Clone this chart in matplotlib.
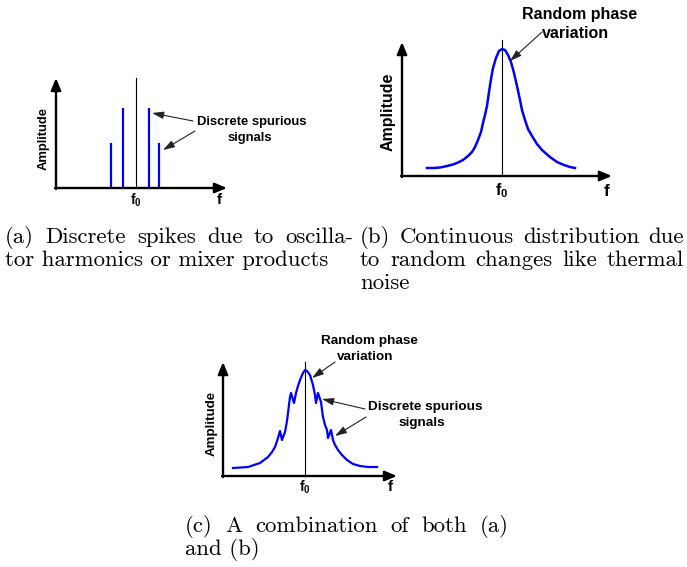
import matplotlib
matplotlib.use("Agg")
import matplotlib.pyplot as plt

plt.rcParams['mathtext.fontset'] = 'custom'
plt.rcParams['mathtext.rm'] = 'Liberation Sans'
plt.rcParams['mathtext.bf'] = 'Liberation Sans:bold'

W, H = 687, 567
BLUE = '#0000ff'
SANS = 'Liberation Sans'

# ---------------- data (pixel-sized units, offsets from panel origin) -------------
# Panel (a): discrete spurs around carrier
a_spike_offsets = [-25, -13, 13, 23]
a_spike_heights = [45, 80, 80, 45]
a_carrier_height = 110

# Panel (b): continuous phase-noise skirt (offset from carrier, amplitude)
b_offsets = [-75, -68, -62, -55, -49, -44, -39, -34, -30, -27, -24, -21, -19, -17, -15,
             -13, -11, -9, -6, -3, 0, 3, 6, 9, 12, 15, 18, 20, 23, 26, 30, 35, 40, 48,
             55, 62, 68, 73]
b_amps = [8, 8, 8.5, 10, 11.5, 13.5, 16, 20, 24, 29, 36, 44, 53, 61, 70,
          84, 97, 108, 118, 125, 127, 126, 121, 114, 103, 90, 76, 66, 56, 47, 40, 32, 26, 19,
          14, 11, 9, 8]
b_carrier_height = 136

# Panel (c): skirt with discrete spurs
c_offsets = [-72, -64, -57, -51, -45, -41, -37, -33, -30, -27, -25, -23, -20, -18, -17,
             -15, -14, -11, -9, -7, -5, -2, 0, 2, 5, 8, 10, 11, 13, 16, 18, 20, 22, 23,
             26, 28, 30, 33, 37, 42, 48, 55, 63, 72]
c_amps = [8, 8.5, 9, 11, 13, 16, 19, 24, 29, 38, 45, 36, 44, 55, 63,
          79, 83, 73, 83, 90, 96, 103, 106, 105, 101, 91, 81, 73, 83, 74, 59, 51, 46, 38,
          46, 36, 31, 26, 21, 16, 12, 10, 9, 9]
c_carrier_height = 114

# ---------------- layout --------------------------------------------------------
fig = plt.figure(figsize=(W / 100, H / 100), dpi=100)
fig.patch.set_facecolor('white')

base = fig.add_axes([0, 0, 1, 1])
base.set_xlim(0, W)
base.set_ylim(H, 0)
base.axis('off')


def panel(ox, oy):
    ax = fig.add_axes([0, 0, 1, 1])
    ax.set_xlim(-ox, W - ox)
    ax.set_ylim(oy - H, oy)
    ax.axis('off')
    ax.patch.set_alpha(0)
    return ax


def axis_arrows(ax, xend, ytop):
    kw = dict(arrowstyle='-|>,head_length=0.6,head_width=0.25', lw=1.7,
              color='black', mutation_scale=12, shrinkA=0, shrinkB=0)
    ax.annotate('', xy=(xend, 0), xytext=(-1, 0), arrowprops=kw)
    ax.annotate('', xy=(0, ytop), xytext=(0, -1), arrowprops=kw)


def pointer(ax, start, end):
    ax.annotate('', xy=end, xytext=start,
                arrowprops=dict(arrowstyle='-|>,head_length=0.7,head_width=0.22',
                                lw=0.8, color='#222222', mutation_scale=10,
                                shrinkA=0, shrinkB=0))


def ftexts(ax, cx, fx, y, size):
    ax.text(cx, y, r'$\mathbf{f}_\mathbf{0}$', ha='center', va='center', fontsize=size)
    ax.text(fx, y, 'f', ha='center', va='center', fontsize=size + 1,
            family=SANS, weight='bold')


# ---- Panel (a)
oxa, oya = 56, 188
axa = panel(oxa, oya)
ca = 80
axa.plot([ca, ca], [0, a_carrier_height], color='black', lw=0.8)
for off, h in zip(a_spike_offsets, a_spike_heights):
    axa.plot([ca + off, ca + off], [0, h], color=BLUE, lw=1.6, solid_capstyle='butt')
axis_arrows(axa, 171, 110)
axa.text(-12, 50, 'Amplitude', rotation=90, ha='center', va='center',
         fontsize=9.4, family=SANS, weight='bold')
ftexts(axa, ca, 163, -12, 10)
axa.text(196, 66, 'Discrete spurious', ha='center', va='center',
         fontsize=9.4, family=SANS, weight='bold')
axa.text(194, 50, 'signals', ha='center', va='center',
         fontsize=9.4, family=SANS, weight='bold')
pointer(axa, (137, 67), (ca + 16, 75))
pointer(axa, (139, 57), (ca + 27, 38))

# ---- Panel (b)
oxb, oyb = 402, 176
axb = panel(oxb, oyb)
cb = 100
axb.plot([cb, cb], [0, b_carrier_height], color='black', lw=0.8)
axb.plot([cb + o for o in b_offsets], b_amps, color=BLUE, lw=1.8)
axis_arrows(axb, 210, 134)
axb.text(-14, 64, 'Amplitude', rotation=90, ha='center', va='center',
         fontsize=11.5, family=SANS, weight='bold')
ftexts(axb, cb, 205, -15, 11.5)
axb.text(178, 161, 'Random phase', ha='center', va='center',
         fontsize=11.5, family=SANS, weight='bold')
axb.text(174, 142, 'variation', ha='center', va='center',
         fontsize=11.5, family=SANS, weight='bold')
pointer(axb, (140, 144), (cb + 8, 115))

# ---- Panel (c)
oxc, oyc = 223, 476
axc = panel(oxc, oyc)
cc = 82
axc.plot([cc, cc], [0, c_carrier_height], color='black', lw=0.8)
axc.plot([cc + o for o in c_offsets], c_amps, color=BLUE, lw=1.6)
axis_arrows(axc, 174, 114)
axc.text(-11, 53, 'Amplitude', rotation=90, ha='center', va='center',
         fontsize=9.6, family=SANS, weight='bold')
ftexts(axc, cc, 167, -11, 10)
axc.text(146, 135, 'Random phase', ha='center', va='center',
         fontsize=9.7, family=SANS, weight='bold')
axc.text(142, 119, 'variation', ha='center', va='center',
         fontsize=9.7, family=SANS, weight='bold')
pointer(axc, (112, 114), (cc + 7, 98))
axc.text(202, 69, 'Discrete spurious', ha='center', va='center',
         fontsize=9.7, family=SANS, weight='bold')
axc.text(199, 53, 'signals', ha='center', va='center',
         fontsize=9.7, family=SANS, weight='bold')
pointer(axc, (142, 67), (cc + 17, 77))
pointer(axc, (143, 59), (cc + 30, 40))

# ---------------- captions (justified, Computer Modern) -----------------------
CAP = dict(family='cmr10', fontsize=16.4)
renderer = fig.canvas.get_renderer()


def justified(words, x0, x1, y):
    texts = [base.text(0, y, w, ha='left', va='baseline', **CAP) for w in words]
    widths = [t.get_window_extent(renderer).width for t in texts]
    gap = (x1 - x0 - sum(widths)) / max(len(words) - 1, 1)
    x = x0
    for t, w in zip(texts, widths):
        t.set_x(x)
        x += w + gap


def natural(line, x0, y):
    base.text(x0, y, line, ha='left', va='baseline', **CAP)


cap_a = ["(a) Discrete spikes due to oscilla-", "tor harmonics or mixer products"]
cap_b = ["(b) Continuous distribution due", "to random changes like thermal", "noise"]
cap_c = ["(c) A combination of both (a)", "and (b)"]

justified(cap_a[0].split(' '), 5, 353, 243)
natural(cap_a[1], 5, 266)
justified(cap_b[0].split(' '), 360, 684, 243)
justified(cap_b[1].split(' '), 360, 684, 266)
natural(cap_b[2], 360, 289)
justified(cap_c[0].split(' '), 185, 509, 532)
natural(cap_c[1], 185, 555)

fig.savefig('out.png', dpi=100, facecolor='white')
